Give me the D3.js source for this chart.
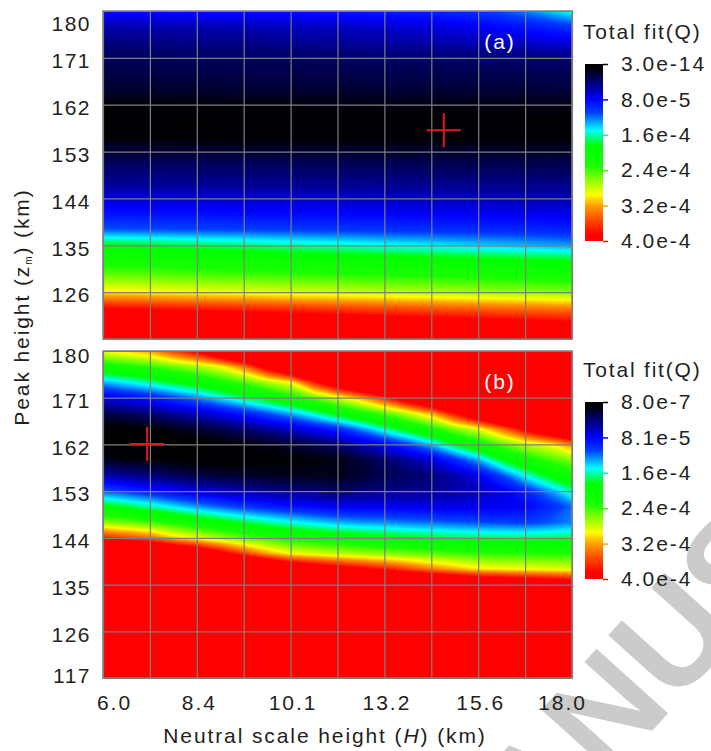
<!DOCTYPE html>
<html>
<head>
<meta charset="utf-8">
<script src="https://cdn.jsdelivr.net/npm/d3@7"></script>
<style>
  body { margin: 0; background: #fff; }
  svg text { font-family: Arial, "Liberation Sans", sans-serif; fill: #231f20; }
</style>
</head>
<body>
<svg id="chart" width="711" height="751"></svg>
<script>
// grids the fit was evaluated on (neutral scale height H, peak height zm), km
var hGridA = [6.0, 7.2, 8.4, 9.6, 10.8, 12.0, 13.2, 14.4, 15.6, 16.8, 18.0];
var hGridB = [6.0, 6.6, 7.2, 7.8, 8.4, 9.0, 9.6, 10.2, 10.8, 11.4, 12.0,
              12.6, 13.2, 13.8, 14.4, 15.0, 15.6, 16.2, 16.8, 17.4, 18.0];
var zGrid = [180, 177, 174, 171, 168, 165, 162, 159, 156, 153, 150, 147, 144, 141, 138, 135, 132, 129, 126, 123, 120, 117];

var hTicks = [6.0, 8.4, 10.8, 13.2, 15.6, 18.0];
var hTickLabels = ['6.0', '8.4', '10.1', '13.2', '15.6', '18.0'];
var zTicks = [180, 171, 162, 153, 144, 135, 126, 117];

// colour bar ticks, Q in units of 1e-4
var cbTicks = [0, 0.8, 1.6, 2.4, 3.2, 4.0];
var cbLabelsA = ['3.0e-14', '8.0e-5', '1.6e-4', '2.4e-4', '3.2e-4', '4.0e-4'];
var cbLabelsB = ['8.0e-7', '8.1e-5', '1.6e-4', '2.4e-4', '3.2e-4', '4.0e-4'];

// best fit (H, zm) marked with a cross
var bestA = [14.72, 157.1];
var bestB = [7.13, 162.1];

// total fit Q (x 1e-4) (a): one row per zGrid value, one column per hGridA value
var qTop = [
  [0.85, 0.85, 0.86, 0.87, 0.88, 0.90, 0.92, 0.96, 1.05, 1.25, 1.55],
  [0.58, 0.58, 0.59, 0.60, 0.62, 0.64, 0.67, 0.71, 0.78, 0.90, 1.05],
  [0.44, 0.45, 0.46, 0.47, 0.49, 0.51, 0.53, 0.56, 0.60, 0.66, 0.72],
  [0.34, 0.34, 0.35, 0.35, 0.36, 0.37, 0.38, 0.39, 0.40, 0.41, 0.43],
  [0.28, 0.28, 0.28, 0.29, 0.29, 0.29, 0.30, 0.30, 0.30, 0.31, 0.31],
  [0.22, 0.22, 0.22, 0.23, 0.23, 0.23, 0.24, 0.24, 0.25, 0.25, 0.26],
  [0.10, 0.10, 0.11, 0.11, 0.12, 0.12, 0.13, 0.13, 0.14, 0.14, 0.15],
  [0.05, 0.05, 0.05, 0.06, 0.06, 0.06, 0.07, 0.07, 0.07, 0.08, 0.08],
  [0.08, 0.08, 0.07, 0.07, 0.07, 0.06, 0.06, 0.06, 0.07, 0.07, 0.08],
  [0.24, 0.24, 0.24, 0.23, 0.23, 0.23, 0.22, 0.22, 0.22, 0.21, 0.21],
  [0.38, 0.38, 0.37, 0.37, 0.36, 0.35, 0.35, 0.34, 0.33, 0.33, 0.32],
  [0.50, 0.50, 0.49, 0.49, 0.48, 0.48, 0.47, 0.47, 0.46, 0.46, 0.45],
  [0.68, 0.67, 0.66, 0.65, 0.64, 0.63, 0.62, 0.61, 0.60, 0.58, 0.57],
  [0.88, 0.87, 0.86, 0.84, 0.83, 0.82, 0.80, 0.79, 0.78, 0.76, 0.75],
  [1.15, 1.13, 1.11, 1.09, 1.07, 1.05, 1.03, 1.01, 0.99, 0.97, 0.95],
  [1.85, 1.80, 1.74, 1.69, 1.63, 1.58, 1.52, 1.47, 1.41, 1.36, 1.30],
  [2.20, 2.17, 2.13, 2.10, 2.06, 2.03, 2.00, 1.96, 1.92, 1.89, 1.85],
  [2.55, 2.52, 2.48, 2.45, 2.41, 2.38, 2.34, 2.31, 2.27, 2.24, 2.20],
  [3.00, 2.96, 2.92, 2.88, 2.84, 2.80, 2.76, 2.72, 2.68, 2.64, 2.60],
  [3.80, 3.75, 3.70, 3.65, 3.60, 3.55, 3.50, 3.45, 3.40, 3.35, 3.30],
  [4.50, 4.44, 4.38, 4.32, 4.26, 4.20, 4.14, 4.08, 4.02, 3.96, 3.90],
  [5.00, 4.96, 4.92, 4.88, 4.84, 4.80, 4.76, 4.72, 4.68, 4.64, 4.60]
];

// total fit Q (x 1e-4) (b): one row per zGrid value, one column per hGridB value
var qBottom = [
  [2.95, 3.05, 3.21, 3.58, 3.95, 4.48, 5.00, 5.50, 5.50, 5.50, 5.50, 5.50, 5.50, 5.50, 5.50, 5.50, 5.50, 5.50, 5.50, 5.50, 5.50],
  [2.14, 2.26, 2.37, 2.54, 2.70, 2.93, 3.36, 4.05, 4.74, 5.37, 5.50, 5.50, 5.50, 5.50, 5.50, 5.50, 5.50, 5.50, 5.50, 5.50, 5.50],
  [1.35, 1.49, 1.64, 1.82, 2.00, 2.22, 2.44, 2.72, 2.95, 3.73, 4.37, 4.84, 5.32, 5.50, 5.50, 5.50, 5.50, 5.50, 5.50, 5.50, 5.50],
  [0.72, 0.82, 0.92, 1.08, 1.26, 1.48, 1.71, 1.94, 2.21, 2.50, 2.84, 3.19, 3.67, 4.25, 4.83, 5.47, 5.50, 5.50, 5.50, 5.50, 5.50],
  [0.29, 0.34, 0.41, 0.51, 0.63, 0.77, 0.94, 1.13, 1.35, 1.61, 1.92, 2.20, 2.48, 2.79, 3.18, 3.82, 4.45, 5.04, 5.50, 5.50, 5.50],
  [0.05, 0.07, 0.10, 0.15, 0.22, 0.30, 0.40, 0.51, 0.65, 0.81, 0.99, 1.28, 1.61, 1.93, 2.25, 2.59, 2.90, 3.38, 3.96, 4.44, 4.92],
  [0.01, 0.00, 0.00, 0.01, 0.03, 0.06, 0.11, 0.15, 0.22, 0.30, 0.40, 0.59, 0.81, 1.07, 1.39, 1.79, 2.13, 2.48, 2.75, 2.93, 3.28],
  [0.18, 0.14, 0.11, 0.08, 0.06, 0.05, 0.06, 0.06, 0.08, 0.10, 0.14, 0.24, 0.38, 0.52, 0.70, 0.99, 1.33, 1.80, 2.14, 2.40, 2.60],
  [0.56, 0.49, 0.42, 0.34, 0.28, 0.24, 0.21, 0.18, 0.17, 0.16, 0.16, 0.22, 0.31, 0.36, 0.42, 0.57, 0.77, 1.10, 1.52, 1.86, 2.11],
  [1.16, 1.04, 0.92, 0.80, 0.69, 0.61, 0.54, 0.48, 0.44, 0.40, 0.37, 0.40, 0.46, 0.47, 0.49, 0.53, 0.60, 0.73, 0.96, 1.27, 1.64],
  [1.90, 1.78, 1.63, 1.46, 1.30, 1.17, 1.06, 0.97, 0.89, 0.83, 0.77, 0.76, 0.77, 0.75, 0.74, 0.73, 0.74, 0.75, 0.80, 0.97, 1.19],
  [2.61, 2.52, 2.41, 2.25, 2.08, 1.92, 1.76, 1.64, 1.52, 1.43, 1.34, 1.29, 1.26, 1.22, 1.19, 1.15, 1.12, 1.09, 1.07, 1.14, 1.24],
  [3.72, 3.56, 3.40, 3.08, 2.89, 2.69, 2.51, 2.36, 2.22, 2.13, 2.04, 1.97, 1.91, 1.85, 1.80, 1.76, 1.72, 1.71, 1.71, 1.72, 1.74],
  [5.37, 5.22, 5.06, 4.74, 4.42, 4.00, 3.57, 3.20, 2.93, 2.84, 2.75, 2.68, 2.61, 2.54, 2.47, 2.41, 2.36, 2.34, 2.32, 2.31, 2.30],
  [5.50, 5.50, 5.50, 5.50, 5.50, 5.50, 5.23, 4.86, 4.48, 4.27, 4.06, 3.90, 3.74, 3.53, 3.32, 3.16, 3.00, 2.96, 2.92, 2.89, 2.86],
  [5.50, 5.50, 5.50, 5.50, 5.50, 5.50, 5.50, 5.50, 5.50, 5.50, 5.50, 5.50, 5.40, 5.18, 4.97, 4.81, 4.65, 4.55, 4.44, 4.34, 4.23],
  [5.50, 5.50, 5.50, 5.50, 5.50, 5.50, 5.50, 5.50, 5.50, 5.50, 5.50, 5.50, 5.50, 5.50, 5.50, 5.50, 5.50, 5.50, 5.50, 5.50, 5.50],
  [5.50, 5.50, 5.50, 5.50, 5.50, 5.50, 5.50, 5.50, 5.50, 5.50, 5.50, 5.50, 5.50, 5.50, 5.50, 5.50, 5.50, 5.50, 5.50, 5.50, 5.50],
  [5.50, 5.50, 5.50, 5.50, 5.50, 5.50, 5.50, 5.50, 5.50, 5.50, 5.50, 5.50, 5.50, 5.50, 5.50, 5.50, 5.50, 5.50, 5.50, 5.50, 5.50],
  [5.50, 5.50, 5.50, 5.50, 5.50, 5.50, 5.50, 5.50, 5.50, 5.50, 5.50, 5.50, 5.50, 5.50, 5.50, 5.50, 5.50, 5.50, 5.50, 5.50, 5.50],
  [5.50, 5.50, 5.50, 5.50, 5.50, 5.50, 5.50, 5.50, 5.50, 5.50, 5.50, 5.50, 5.50, 5.50, 5.50, 5.50, 5.50, 5.50, 5.50, 5.50, 5.50],
  [5.50, 5.50, 5.50, 5.50, 5.50, 5.50, 5.50, 5.50, 5.50, 5.50, 5.50, 5.50, 5.50, 5.50, 5.50, 5.50, 5.50, 5.50, 5.50, 5.50, 5.50]
];

// black-blue-cyan-green-yellow-red map, Q x 1e-4
var cmapStops = [0, 0.1, 0.8, 1.1, 1.5, 1.85, 2.3, 2.95, 3.2, 3.5, 3.85, 4.0];
var cmapColors = ['#000000', '#000006', '#0000ff', '#0040ff', '#00ffff', '#00ff00',
                  '#19ff00', '#ffff00', '#ffa000', '#ff5000', '#ff0000', '#ff0000'];

var color = d3.scaleLinear().domain(cmapStops).range(cmapColors).clamp(true);

var svg = d3.select('#chart');
var defs = svg.append('defs');

// watermark left from the source page
svg.append('text')
  .attr('transform', 'translate(461,943) rotate(-48)')
  .attr('font-size', 140)
  .attr('font-weight', 'bold')
  .style('fill', '#cbcbcb')
  .text('MANUSCRIPT');

var x = d3.scaleLinear().domain([hGridA[0], hGridA[hGridA.length - 1]]).range([103, 572]);

var thresholds = d3.range(0.02, 4.001, 0.02);

var panels = [
  {q: qTop, hs: hGridA, top: 11, bottom: 339, tag: '(a)', best: bestA, cbLabels: cbLabelsA,
   cbTop: 64, cbBottom: 241, titleY: 39, zLabels: zTicks.slice(0, 7), firstShift: 13},
  {q: qBottom, hs: hGridB, top: 351, bottom: 678, tag: '(b)', best: bestB, cbLabels: cbLabelsB,
   cbTop: 402, cbBottom: 579, titleY: 377, zLabels: zTicks, firstShift: 5}
];

panels.forEach(function(p, k) {
  var y = d3.scaleLinear().domain([zGrid[zGrid.length - 1], zGrid[0]]).range([p.bottom, p.top]);
  var w = x.range()[1] - x.range()[0];
  var h = p.bottom - p.top;

  // grid index -> data coordinates (d3.contours puts sample i at i + 0.5)
  var gx = d3.scaleLinear().domain([0.5, p.hs.length - 0.5]).range([p.hs[0], p.hs[p.hs.length - 1]]);
  var gz = d3.scaleLinear().domain([0.5, zGrid.length - 0.5]).range([zGrid[0], zGrid[zGrid.length - 1]]);

  defs.append('clipPath').attr('id', 'clip' + k)
    .append('rect').attr('x', x.range()[0]).attr('y', p.top).attr('width', w).attr('height', h);

  var g = svg.append('g');
  var map = g.append('g').attr('clip-path', 'url(#clip' + k + ')');

  map.append('rect')
    .attr('x', x.range()[0]).attr('y', p.top).attr('width', w).attr('height', h)
    .attr('fill', color(0.01));

  var proj = d3.geoTransform({
    point: function(px, py) { this.stream.point(x(gx(px)), y(gz(py))); }
  });
  var path = d3.geoPath(proj);

  var contours = d3.contours()
    .size([p.hs.length, zGrid.length])
    .thresholds(thresholds)(p.q.flat());

  map.selectAll('path')
    .data(contours)
    .enter().append('path')
    .attr('d', path)
    .attr('fill', function(d) { return color(d.value + 0.01); });

  // grid lines
  g.append('g')
    .attr('transform', 'translate(0,' + p.bottom + ')')
    .call(d3.axisBottom(x).tickValues(hGridA).tickSize(-h).tickFormat(''))
    .call(function(a) {
      a.select('.domain').remove();
      a.selectAll('line').attr('stroke', '#7f7f7f').attr('stroke-width', 1.2);
    });
  g.append('g')
    .attr('transform', 'translate(' + x.range()[0] + ',0)')
    .call(d3.axisLeft(y).tickValues(zTicks).tickSize(-w).tickFormat(''))
    .call(function(a) {
      a.select('.domain').remove();
      a.selectAll('line').attr('stroke', '#7f7f7f').attr('stroke-width', 1.2);
    });
  g.append('rect')
    .attr('x', x.range()[0]).attr('y', p.top).attr('width', w).attr('height', h)
    .attr('fill', 'none').attr('stroke', '#7f7f7f').attr('stroke-width', 1.5);

  // best fit cross
  var bx = x(p.best[0]), by = y(p.best[1]);
  g.append('line').attr('x1', bx - 17).attr('x2', bx + 17).attr('y1', by).attr('y2', by)
    .attr('stroke', '#e31a1c').attr('stroke-width', 2);
  g.append('line').attr('x1', bx).attr('x2', bx).attr('y1', by - 17).attr('y2', by + 17)
    .attr('stroke', '#e31a1c').attr('stroke-width', 2);

  g.append('text')
    .attr('x', 500).attr('y', p.top + 38)
    .attr('text-anchor', 'middle')
    .attr('font-size', 21).attr('letter-spacing', 2)
    .style('fill', '#ffffff')
    .text(p.tag);

  // y tick labels
  g.append('g')
    .attr('transform', 'translate(' + x.range()[0] + ',0)')
    .call(d3.axisLeft(y).tickValues(p.zLabels).tickSize(0).tickPadding(12))
    .call(function(a) {
      a.select('.domain').remove();
      a.selectAll('text')
        .attr('font-size', 21).attr('letter-spacing', 1.5)
        .attr('y', function(d) {
          if (d === zTicks[0]) return p.firstShift;
          if (d === zTicks[zTicks.length - 1]) return -2;
          return 3;
        });
    });

  // colour bar
  var grad = defs.append('linearGradient').attr('id', 'grad' + k)
    .attr('x1', 0).attr('x2', 0).attr('y1', 0).attr('y2', 1);
  grad.selectAll('stop')
    .data(cmapStops)
    .enter().append('stop')
    .attr('offset', function(d) { return d / 4; })
    .attr('stop-color', function(d) { return color(d); });

  var cb = d3.scaleLinear().domain([0, 4]).range([p.cbTop, p.cbBottom]);
  svg.append('rect')
    .attr('x', 585).attr('y', p.cbTop).attr('width', 18).attr('height', p.cbBottom - p.cbTop)
    .attr('fill', 'url(#grad' + k + ')');
  svg.append('g')
    .attr('transform', 'translate(603,0)')
    .call(d3.axisRight(cb).tickValues(cbTicks).tickSize(5).tickPadding(13)
      .tickFormat(function(d, i) { return p.cbLabels[i]; }))
    .call(function(a) {
      a.select('.domain').remove();
      a.selectAll('line').attr('stroke', function(d) { return color(d); }).attr('stroke-width', 1.5);
      a.selectAll('text').attr('font-size', 21).attr('letter-spacing', 2);
    });
  svg.append('text')
    .attr('x', 583).attr('y', p.titleY)
    .attr('font-size', 21).attr('letter-spacing', 1.8)
    .text('Total fit(Q)');
});

// x tick labels under the lower map
var xAxis = svg.append('g')
  .attr('transform', 'translate(0,678)')
  .call(d3.axisBottom(x).tickValues(hTicks).tickSize(0).tickPadding(17)
    .tickFormat(function(d, i) { return hTickLabels[i]; }));
xAxis.select('.domain').remove();
xAxis.selectAll('text')
  .attr('font-size', 21).attr('letter-spacing', 2)
  .attr('x', function(d, i) { return i === 0 ? 11 : (i === hTicks.length - 1 ? -10 : 2); });

var xTitle = svg.append('text')
  .attr('x', 325).attr('y', 743)
  .attr('text-anchor', 'middle')
  .attr('font-size', 21).attr('letter-spacing', 1.9);
xTitle.append('tspan').text('Neutral scale height (');
xTitle.append('tspan').attr('font-style', 'italic').text('H');
xTitle.append('tspan').text(') (km)');

var yTitle = svg.append('text')
  .attr('transform', 'translate(29,307) rotate(-90)')
  .attr('text-anchor', 'middle')
  .attr('font-size', 21).attr('letter-spacing', 1.9);
yTitle.append('tspan').text('Peak height (z');
yTitle.append('tspan').attr('font-size', 10).attr('dy', 3).text('m');
yTitle.append('tspan').attr('dy', -3).text(') (km)');
</script>
</body>
</html>
